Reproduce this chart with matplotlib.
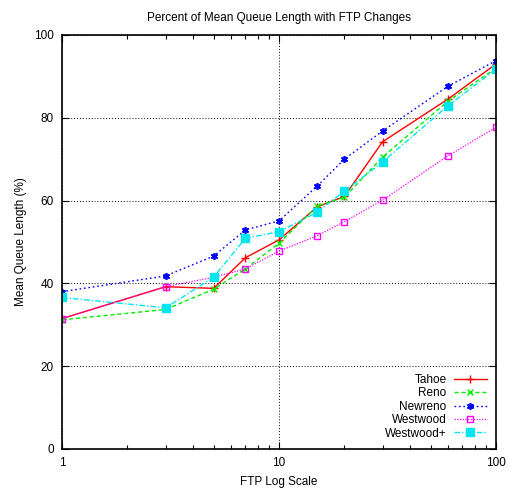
import matplotlib
matplotlib.use("Agg")
import matplotlib.pyplot as plt
from matplotlib.ticker import LogLocator, NullFormatter, FixedLocator

plt.rcParams['font.family'] = ['Liberation Sans Narrow', 'Liberation Sans', 'DejaVu Sans']

ftp = [1, 3, 5, 7, 10, 15, 20, 30, 60, 100]
tahoe = [31.5, 39.2, 38.8, 46.2, 50.5, 58.5, 61.0, 74.2, 84.5, 93.0]
reno = [31.2, 33.7, 38.6, 43.5, 49.7, 58.7, 60.8, 70.5, 84.0, 92.0]
newreno = [38.0, 41.8, 46.6, 52.9, 55.1, 63.5, 70.0, 76.8, 87.6, 93.8]
westwood = [31.5, 39.2, 41.5, 43.5, 47.8, 51.5, 54.9, 60.1, 70.8, 77.7]
westwood_plus = [36.6, 34.1, 41.5, 50.9, 52.5, 57.2, 62.3, 69.3, 82.9, 91.7]

fig = plt.figure(figsize=(5.13, 4.92), dpi=100)
ax = fig.add_axes([0.1209, 0.0874, 0.8460, 0.8415])

ax.plot(ftp, tahoe, color='#ff0000', ls='-', lw=1, marker='+', ms=6, mew=1, label='Tahoe')
ax.plot(ftp, reno, color='#00ee00', ls=(0, (3, 2)), lw=1, marker='x', ms=5, mew=1, label='Reno')
ax.plot(ftp, newreno, color='#0000ff', ls=(0, (1.2, 2)), lw=1, marker=(6, 2, 0), ms=5, mew=1.2, label='Newreno')
ax.plot(ftp, westwood, color='#ff00ff', ls=(0, (1, 1.2)), lw=0.9, marker='s', ms=5, mfc='none', mew=1, label='Westwood')
ax.plot(ftp, westwood_plus, color='#00e5ee', ls=(0, (4, 1.5, 1, 1.5)), lw=1, marker='s', ms=6, label='Westwood+')

ax.set_xscale('log')
ax.set_xlim(1, 100)
ax.set_ylim(0, 100)
ax.xaxis.set_major_locator(FixedLocator([1, 10, 100]))
ax.xaxis.set_major_formatter(matplotlib.ticker.FuncFormatter(lambda v, p: f"{int(v)}"))
ax.xaxis.set_minor_locator(LogLocator(base=10, subs=range(2, 10)))
ax.xaxis.set_minor_formatter(NullFormatter())
ax.set_yticks([0, 20, 40, 60, 80, 100])

ax.tick_params(which='both', direction='in', top=True, right=True, labelsize=8.5, width=0.8)
ax.tick_params(which='major', length=5)
ax.tick_params(which='minor', length=3)
ax.tick_params(axis='x', pad=6)
ax.tick_params(axis='y', pad=6)

ax.grid(True, which='major', color='black', ls=(0, (1, 2)), lw=0.7)
for s in ax.spines.values():
    s.set_linewidth(1.2)

ax.set_title('Percent of Mean Queue Length with FTP Changes', fontsize=8.5, pad=10)
ax.set_xlabel('FTP Log Scale', fontsize=8.5, labelpad=5)
ax.set_ylabel('Mean Queue Length (%)', fontsize=8.5, labelpad=5)

leg = ax.legend(loc='lower right', markerfirst=False, frameon=False, fontsize=8.5,
                handlelength=2.8, labelspacing=0.12, borderaxespad=0.4, handletextpad=0.6)
for t in leg.get_texts():
    t.set_ha('right')
leg._legend_box.align = 'right'

fig.savefig('out.png', dpi=100)
